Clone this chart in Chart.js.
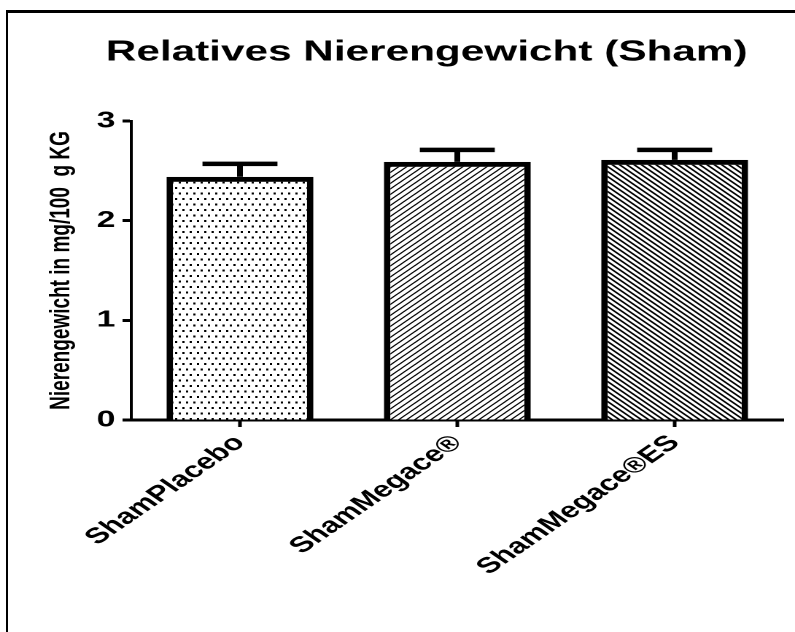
<!DOCTYPE html>
<html>
<head>
<meta charset="utf-8">
<script src="https://cdn.jsdelivr.net/npm/chart.js@4.4.1/dist/chart.umd.min.js"></script>
<style>
    html, body { margin: 0; padding: 0; background: #fff; overflow: hidden; }
    #frame {
        position: absolute; left: 6px; top: 9.5px; width: 800px; height: 640px;
        border-top: 3px solid #000; border-left: 2.5px solid #000;
    }
    /* the original export is stretched sideways, so draw narrow and scale */
    #chart { position: absolute; left: 0; top: 0; transform: scaleX(1.4587); transform-origin: 0 0; }
</style>
</head>
<body>
<div id="frame"></div>
<canvas id="chart" width="545" height="632"></canvas>
<script>
const categories = ['ShamPlacebo', 'ShamMegace®', 'ShamMegace®ES'];
const meanValues = [2.44, 2.59, 2.61];
const semValues = [0.13, 0.12, 0.10];
const yTicks = [0, 1, 2, 3];

const FONT = 'Arial, "Liberation Sans", sans-serif';
const CAP_HALF = 25.7;

const canvas = document.getElementById('chart');
const ctx = canvas.getContext('2d');

const halfScale = pattern => {
    pattern.setTransform(new DOMMatrix().scale(0.5));
    return pattern;
};

const makeDots = () => {
    const c = document.createElement('canvas');
    c.width = 10; c.height = 22;
    const g = c.getContext('2d');
    g.fillStyle = '#fff';
    g.fillRect(0, 0, 10, 22);
    g.fillStyle = '#000';
    g.fillRect(0, 0, 3, 4);
    g.fillRect(5, 11, 3, 4);
    return halfScale(ctx.createPattern(c, 'repeat'));
};

const makeHatch = (size, width, forward) => {
    const c = document.createElement('canvas');
    c.width = size; c.height = size;
    const g = c.getContext('2d');
    g.fillStyle = '#fff';
    g.fillRect(0, 0, size, size);
    g.strokeStyle = '#000';
    g.lineWidth = width;
    const h = size / 2;
    const segs = forward
        ? [[0, size, size, 0], [-h, h, h, -h], [h, size + h, size + h, h]]
        : [[0, 0, size, size], [-h, h, h, size + h], [h, -h, size + h, h]];
    segs.forEach(([x1, y1, x2, y2]) => {
        g.beginPath();
        g.moveTo(x1, y1);
        g.lineTo(x2, y2);
        g.stroke();
    });
    return halfScale(ctx.createPattern(c, 'repeat'));
};

const errorBars = {
    id: 'errorBars',
    afterDatasetsDraw(chart) {
        const y = chart.scales.y;
        const meta = chart.getDatasetMeta(0);
        chart.ctx.save();
        chart.ctx.fillStyle = '#000';
        meta.data.forEach((bar, i) => {
            const top = y.getPixelForValue(meanValues[i] + semValues[i]);
            chart.ctx.fillRect(bar.x - 2, top, 4, bar.y - top);
            chart.ctx.fillRect(bar.x - CAP_HALF, top - 2.25, CAP_HALF * 2, 4.5);
        });
        chart.ctx.restore();
    }
};

new Chart(ctx, {
    type: 'bar',
    data: {
        labels: categories,
        datasets: [{
            data: meanValues,
            backgroundColor: [makeDots(), makeHatch(11, 2.0, true), makeHatch(10, 2.8, false)],
            borderColor: '#000',
            borderWidth: { top: 5, left: 4.5, right: 4.5, bottom: 0 },
            borderSkipped: 'bottom',
            barPercentage: 0.676,
            categoryPercentage: 1
        }]
    },
    options: {
        responsive: false,
        devicePixelRatio: 2,
        animation: false,
        // wide left padding pushes the centred title to the right like in the original
        layout: { padding: { left: 48, right: 8, top: 0, bottom: 0 } },
        plugins: {
            legend: { display: false },
            tooltip: { enabled: false },
            title: {
                display: true,
                text: 'Relatives Nierengewicht (Sham)',
                color: '#000',
                font: { family: FONT, size: 29, weight: 'bold' },
                padding: { top: 35, bottom: 51.2 }
            }
        },
        scales: {
            x: {
                afterFit: scale => { scale.height = 212; },
                grid: { offset: false, drawOnChartArea: false, tickLength: 7, tickWidth: 2.5, color: '#000' },
                border: { display: true, width: 3, color: '#000' },
                ticks: {
                    autoSkip: false,
                    minRotation: 45,
                    maxRotation: 45,
                    color: '#000',
                    padding: 3,
                    font: { family: FONT, size: 22, weight: 'bold' }
                }
            },
            y: {
                min: 0,
                max: 3,
                afterFit: scale => { scale.width = 42; },
                afterBuildTicks: scale => { scale.ticks = yTicks.map(v => ({ value: v })); },
                grid: { drawOnChartArea: false, tickLength: 6, tickWidth: 3, color: '#000' },
                border: { display: true, width: 2, color: '#000' },
                ticks: {
                    color: '#000',
                    padding: 5,
                    font: { family: FONT, size: 23, weight: 'bold' }
                },
                title: {
                    display: true,
                    text: 'Nierengewicht in mg/100  g KG',
                    color: '#000',
                    padding: { top: -17, bottom: 0 },
                    font: { family: FONT, size: 19, weight: 'bold' }
                }
            }
        }
    },
    plugins: [errorBars]
});
</script>
</body>
</html>
